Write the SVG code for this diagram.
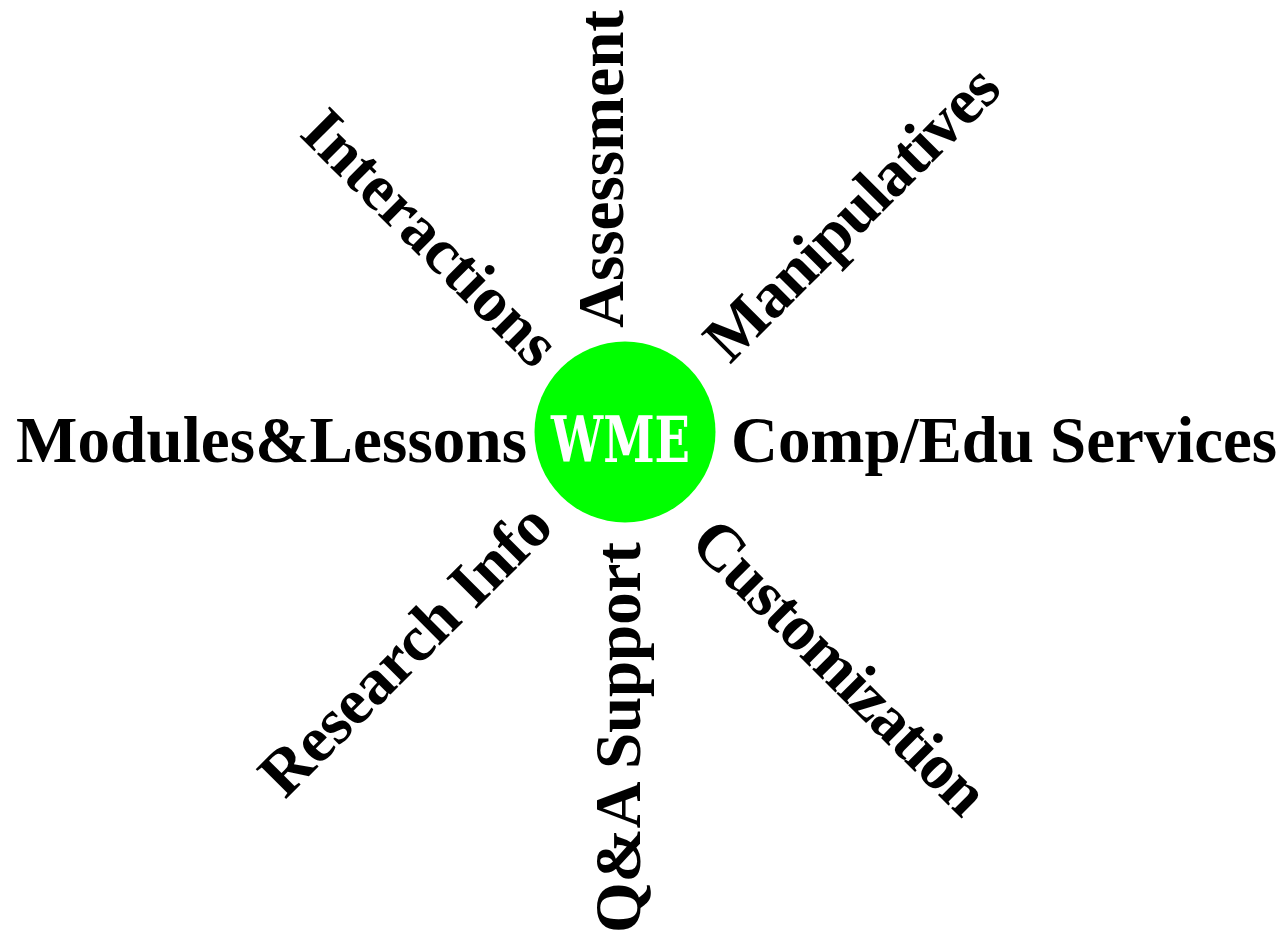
<svg xmlns="http://www.w3.org/2000/svg" width="1287" height="938" viewBox="0 0 1287 938">
  <style>
    .lbl { font-family: "Liberation Serif", "Times New Roman", serif; font-weight: bold; font-size: 65px; fill: #000; }
    .hub { font-family: "DejaVu Serif", "Liberation Serif", serif; font-weight: bold; font-size: 64px; fill: #fff; }
  </style>
  <rect x="0" y="0" width="1287" height="938" fill="#fff"/>
  <g id="connectors"/>
  <g id="wme">
    <circle cx="625" cy="432" r="90.5" fill="#00ff00"/>
    <text class="hub" x="551" y="462" textLength="139" lengthAdjust="spacingAndGlyphs">WME</text>
  </g>
  <g id="modules-lessons">
    <text class="lbl" x="16" y="462" textLength="511">Modules&amp;Lessons</text>
  </g>
  <g id="comp-edu-services">
    <text class="lbl" x="731" y="462" textLength="546">Comp/Edu Services</text>
  </g>
  <g id="assessment" transform="translate(623,328) rotate(-90)">
    <text class="lbl" x="0" y="0" textLength="318">Assessment</text>
  </g>
  <g id="qa-support" transform="translate(640,933) rotate(-90)">
    <text class="lbl" x="0" y="0" textLength="391">Q&amp;A Support</text>
  </g>
  <g id="interactions" transform="translate(298,135) rotate(45)">
    <text class="lbl" x="0" y="0" textLength="333">Interactions</text>
  </g>
  <g id="manipulatives" transform="translate(730,365) rotate(-45)">
    <text class="lbl" x="0" y="0" textLength="387">Manipulatives</text>
  </g>
  <g id="research-info" transform="translate(285,800) rotate(-45)">
    <text class="lbl" x="0" y="0" textLength="383">Research Info</text>
  </g>
  <g id="customization" transform="translate(688,545) rotate(45)">
    <text class="lbl" x="0" y="0" textLength="388">Customization</text>
  </g>
</svg>
